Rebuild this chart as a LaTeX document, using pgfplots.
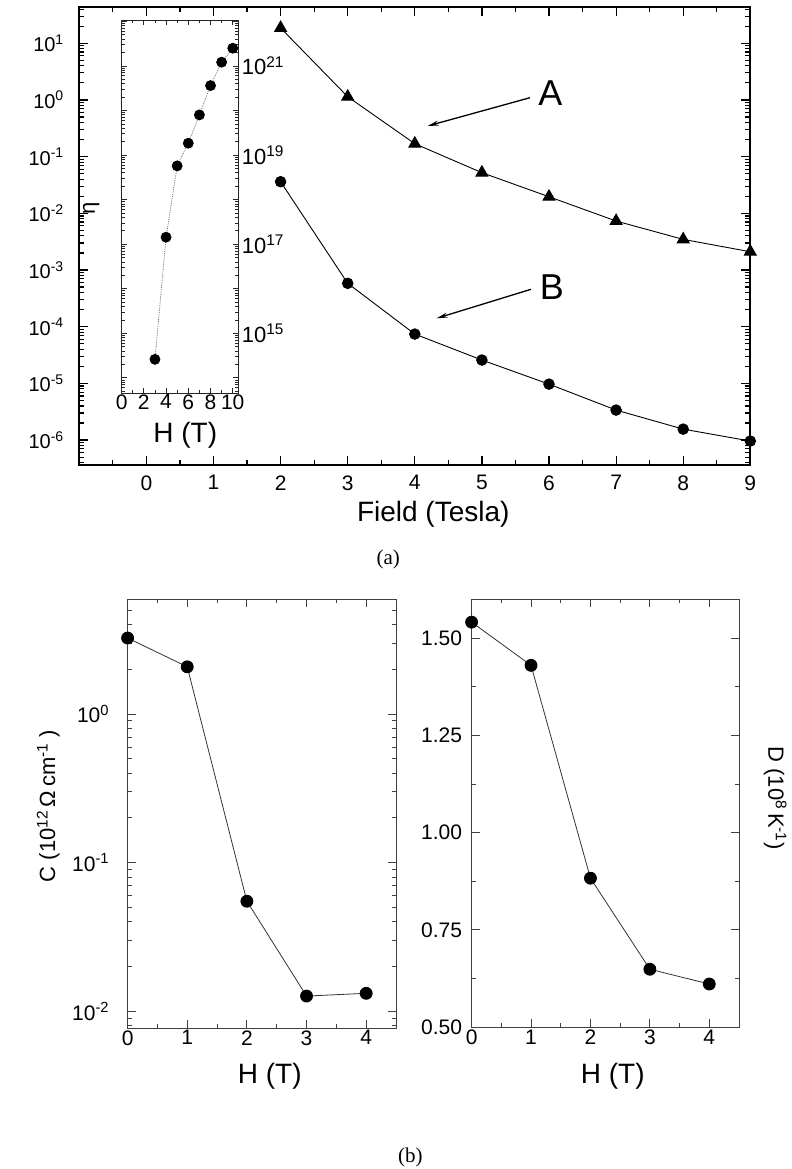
\documentclass[border=0pt]{standalone}
\usepackage{fontspec}
\setmainfont{Liberation Sans}
\newfontfamily\capfont{Liberation Serif}
\usepackage{pgfplots}
\pgfplotsset{compat=1.18}
\usetikzlibrary{arrows.meta}

\newcommand\fs[1]{\fontsize{#1bp}{#1bp}\selectfont}
\newcommand\pten[1]{10\textsuperscript{#1}}

% minor ticks at 2..9 x 10^e for a logarithmic axis
\newcommand\logminors[3]{%
  \gdef#1{1e#2}%
  \foreach \e in {#2,...,#3}{\foreach \m in {2,...,9}{\xdef#1{#1,\m e\e}}}}

\pgfplotsset{
  every axis/.append style={
    scale only axis, anchor=north west, enlargelimits=false, clip=false,
    tick align=inside,
    /pgf/number format/assume math mode=true,
  },
}

\begin{document}
\logminors\mainminor{-7}{1}
\logminors\insetminor{13}{22}
\logminors\cminor{-3}{0}
\begin{tikzpicture}
\path[use as bounding box] (0,0) rectangle (783bp,-1169bp);

% ---------------- (a) main panel: A and B against field
\begin{axis}[
  at={(71bp,-7bp)}, width=671bp, height=458bp,
  xmin=-1, xmax=9, ymode=log, ymin=3.63e-7, ymax=43.6,
  xtick={0,1,2,3,4,5,6,7,8,9}, xticklabels={0,1,2,3,4,5,6,7,8,9},
  minor xtick={-0.5,0.5,1.5,2.5,3.5,4.5,5.5,6.5,7.5,8.5},
  ytick={1e-6,1e-5,1e-4,1e-3,1e-2,1e-1,1,10},
  yticklabels={\pten{-6},\pten{-5},\pten{-4},\pten{-3},\pten{-2},\pten{-1},\pten{0},\pten{1}},
  minor ytick/.expand once=\mainminor,
  major tick length=9bp, minor tick length=5bp,
  axis line style={line width=1.8bp},
  tick style={line width=1.2bp, black},
  xticklabel style={font=\fs{21}}, yticklabel style={font=\fs{20}},
  xticklabel shift=7bp, yticklabel shift=12bp,
]
\addplot[black, line width=0.9bp, mark=triangle*, mark size=6.9bp]
  coordinates {(2,18.6)(3,1.14)(4,0.169)(5,0.0521)(6,0.0196)(7,0.00731)(8,0.00347)(9,0.00210)};
\addplot[black, line width=0.9bp, mark=*, mark size=5.3bp]
  coordinates {(2,0.0361)(3,5.82e-4)(4,7.41e-5)(5,2.58e-5)(6,9.7e-6)(7,3.38e-6)(8,1.56e-6)(9,0.96e-6)};
\end{axis}

% ---------------- inset: eta against H
\begin{axis}[
  at={(113.3bp,-20bp)}, width=116.7bp, height=373bp,
  xmin=0, xmax=10.5, ymode=log, ymin=4.57e13, ymax=1.07e22,
  xtick={0,2,4,6,8,10}, xticklabels={0,2,4,6,8,10},
  minor xtick={1,3,5,7,9},
  ytick={1e15,1e17,1e19,1e21},
  yticklabels={\pten{15},\pten{17},\pten{19},\pten{21}},
  extra y ticks={1e14,1e16,1e18,1e20,1e22}, extra y tick labels={},
  yticklabel pos=right,
  minor ytick/.expand once=\insetminor,
  major tick length=5bp, minor tick length=3bp,
  axis line style={line width=0.9bp, black!85},
  tick style={line width=0.7bp, black!85},
  xticklabel style={font=\fs{21}}, yticklabel style={font=\fs{22}},
  xticklabel shift=-2bp,
]
\addplot[black!55, densely dotted, line width=0.8bp, mark=*, mark size=5bp, mark options={solid, black}]
  coordinates {(3,2.6e14)(4,1.43e17)(5,5.7e18)(6,1.84e19)(7,7.94e19)(8,3.61e20)(9,1.21e21)(10,2.49e21)};
\end{axis}

% ---------------- (b) left: C against H
\begin{axis}[
  at={(119.3bp,-599.2bp)}, width=268.4bp, height=428.8bp,
  xmin=0, xmax=4.5, ymode=log, ymin=7.71e-3, ymax=5.93,
  xtick={0,1,2,3,4}, xticklabels={0,1,2,3,4},
  minor xtick={0.5,1.5,2.5,3.5},
  ytick={0.01,0.1,1}, yticklabels={\pten{-2},\pten{-1},\pten{0}},
  minor ytick/.expand once=\cminor,
  major tick length=8bp, minor tick length=4bp,
  axis line style={line width=1bp, black!75},
  tick style={line width=0.9bp, black!75},
  tick label style={font=\fs{21}},
  yticklabel shift=15bp, xticklabel shift=-1bp,
]
\addplot[black!80, line width=0.8bp, mark=*, mark size=6bp, mark options={black}]
  coordinates {(0,3.25)(1,2.08)(2,0.055)(3,0.01265)(4,0.0132)};
\end{axis}

% ---------------- (b) right: D against H
\begin{axis}[
  at={(463.3bp,-599.2bp)}, width=267.4bp, height=428bp,
  xmin=0, xmax=4.5, ymin=0.5, ymax=1.6,
  xtick={0,1,2,3,4}, xticklabels={0,1,2,3,4},
  minor xtick={0.5,1.5,2.5,3.5},
  ytick={0.5,0.75,1,1.25,1.5}, yticklabels={0.50,0.75,1.00,1.25,1.50},
  minor ytick={0.625,0.875,1.125,1.375},
  major tick length=8bp, minor tick length=4bp,
  axis line style={line width=1bp, black!75},
  tick style={line width=0.9bp, black!75},
  tick label style={font=\fs{21}},
  yticklabel shift=6bp, xticklabel shift=-1bp,
]
\addplot[black!80, line width=0.8bp, mark=*, mark size=6bp, mark options={black}]
  coordinates {(0,1.541)(1,1.430)(2,0.883)(3,0.649)(4,0.611)};
\end{axis}

% ---------------- labels and annotations
\node[font=\fs{28}] at (425bp,-514bp) {Field (Tesla)};
\node[font={\capfont\fs{21}}] at (380bp,-559bp) {(a)};
\node[font={\capfont\fs{21}}] at (402bp,-1157bp) {(b)};
\node[font=\fs{36}] at (542bp,-93bp) {A};
\node[font=\fs{36}] at (543.5bp,-287bp) {B};
\draw[line width=1.3bp, -{Stealth[length=11bp,width=5bp]}] (521.7bp,-97.7bp) -- (419.3bp,-126bp);
\draw[line width=1.3bp, -{Stealth[length=11bp,width=5bp]}] (522.7bp,-289.3bp) -- (428.3bp,-318.3bp);
\node[font=\fs{22}, rotate=90] at (83bp,-208bp) {η};
\node[font=\fs{28}] at (177bp,-435bp) {H (T)};
\node[font=\fs{28}] at (261.5bp,-1076bp) {H (T)};
\node[font=\fs{28}] at (604.5bp,-1076bp) {H (T)};
\node[font=\fs{22}, rotate=90] at (40bp,-806bp) {C (\pten{12}\,Ω\,cm\textsuperscript{-1} )};
\node[font=\fs{22}, rotate=-90] at (767bp,-798bp) {D (\pten{8}\,K\textsuperscript{-1})};
\end{tikzpicture}
\end{document}
